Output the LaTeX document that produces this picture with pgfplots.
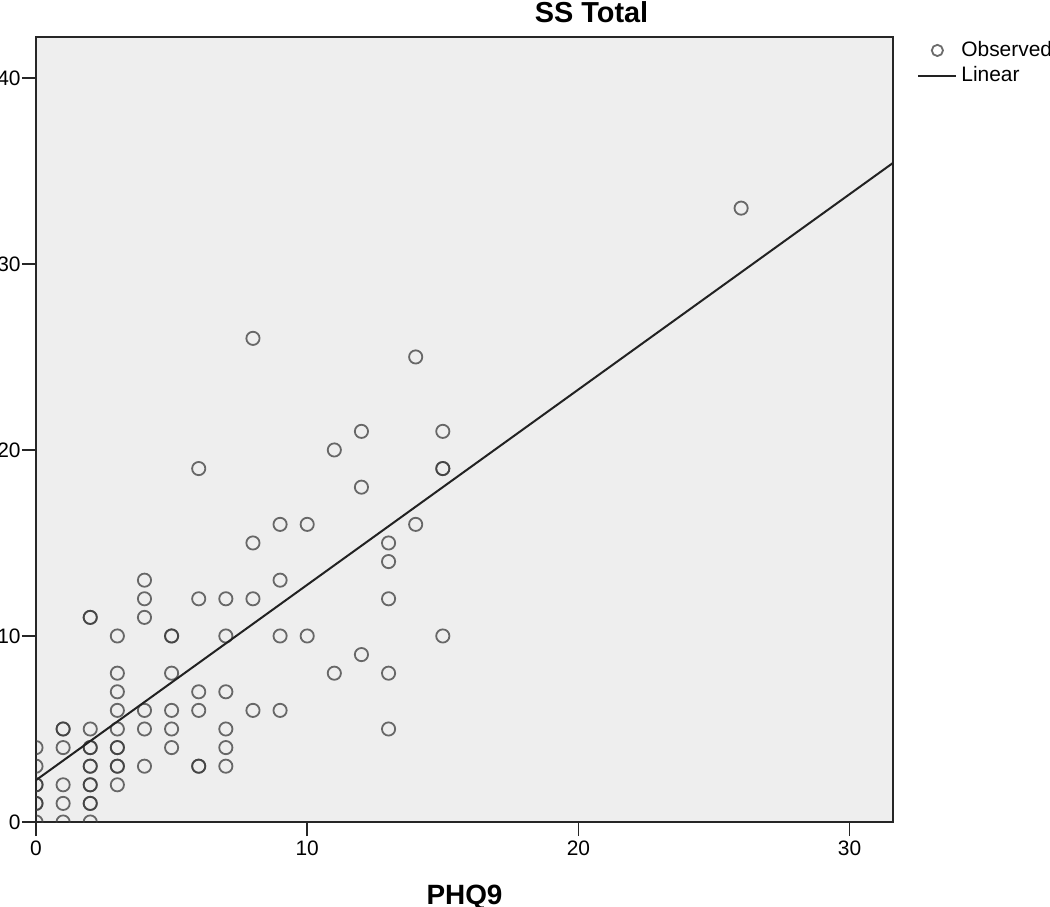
\documentclass[border=0pt]{standalone}
\usepackage{pgfplots}
\pgfplotsset{compat=1.18}
\usepackage{fontspec}
\setmainfont{Liberation Sans}
\definecolor{bgc}{HTML}{EEEEEE}
\definecolor{markc}{HTML}{3A3A3A}
\definecolor{linec}{HTML}{222222}
\pgfplotsset{
    obslegend/.style={legend image code/.code={\draw[mark repeat=2, mark phase=2, ##1, mark size=2.8bp]
        plot coordinates {(0bp,0bp) (9.5bp,0bp) (19bp,0bp)};}},
    linlegend/.style={legend image code/.code={\draw[##1] (0bp,0bp) -- (19bp,0bp);}},
}
\begin{document}
\begin{tikzpicture}
\begin{axis}[
    scale only axis,
    width=428.5bp, height=392.5bp,
    xmin=0, xmax=31.6, ymin=0, ymax=42.2,
    xtick={0,10,20,30}, ytick={0,10,20,30,40},
    tick pos=left, tick align=outside,
    major tick length=7bp,
    clip marker paths=true,
    axis line style={line width=0.8bp, black!85},
    every tick/.style={black!85, line width=0.8bp},
    axis background/.style={fill=bgc},
    /pgf/number format/assume math mode=true,
    ticklabel style={font=\fontsize{10.5}{12}\selectfont},
    yticklabel style={inner xsep=0.5bp},
    xticklabel style={inner ysep=2bp},
    title={SS Total},
    title style={font=\fontsize{14.5}{16}\selectfont\bfseries,
        at={(axis description cs:0.5,1)}, anchor=base, xshift=63.5bp, yshift=1.5bp},
    xlabel={PHQ9},
    xlabel style={font=\fontsize{14}{16}\selectfont\bfseries,
        at={(axis description cs:0.5,0)}, anchor=base, yshift=-41bp},
    legend cell align=left,
    legend style={draw=none, fill=none, at={(1,1)}, anchor=north west,
        xshift=9bp, yshift=2bp, font=\fontsize{10.5}{12}\selectfont,
        row sep=-0.5bp, cells={inner xsep=0bp}},
]
\addplot[only marks, mark=o,
    mark options={draw=markc, draw opacity=0.75, line width=0.9bp},
    mark size=3.3bp, obslegend]
    coordinates {
    (0,0) (0,1) (0,1) (0,2) (0,2) (0,3) (0,4)
    (1,5) (1,5) (1,4) (1,2) (1,1) (1,0)
    (2,11) (2,11) (2,5) (2,4) (2,4) (2,3) (2,3) (2,2) (2,2) (2,1) (2,1) (2,0)
    (3,10) (3,8) (3,7) (3,6) (3,5) (3,4) (3,4) (3,3) (3,3) (3,2)
    (4,13) (4,12) (4,11) (4,6) (4,5) (4,3)
    (5,10) (5,10) (5,8) (5,6) (5,5) (5,4)
    (6,19) (6,12) (6,7) (6,6) (6,3) (6,3)
    (7,12) (7,10) (7,7) (7,5) (7,4) (7,3)
    (8,26) (8,15) (8,12) (8,6)
    (9,16) (9,13) (9,10) (9,6)
    (10,16) (10,10)
    (11,20) (11,8)
    (12,21) (12,18) (12,9)
    (13,15) (13,14) (13,12) (13,8) (13,5)
    (14,25) (14,16)
    (15,21) (15,19) (15,19) (15,10)
    (26,33)
    };
\addlegendentry{Observed}
\addplot[linec, line width=1bp, no marks, linlegend]
    coordinates {(0,2.25) (31.6,35.43)};
\addlegendentry{Linear}
\coordinate (bl) at (rel axis cs:0,0);
\coordinate (tr) at (rel axis cs:1,1);
\end{axis}
\pgfresetboundingbox
\path[use as bounding box] ([shift={(-18bp,-42.5bp)}]bl) rectangle ([shift={(78.5bp,18.5bp)}]tr);
\end{tikzpicture}
\end{document}
